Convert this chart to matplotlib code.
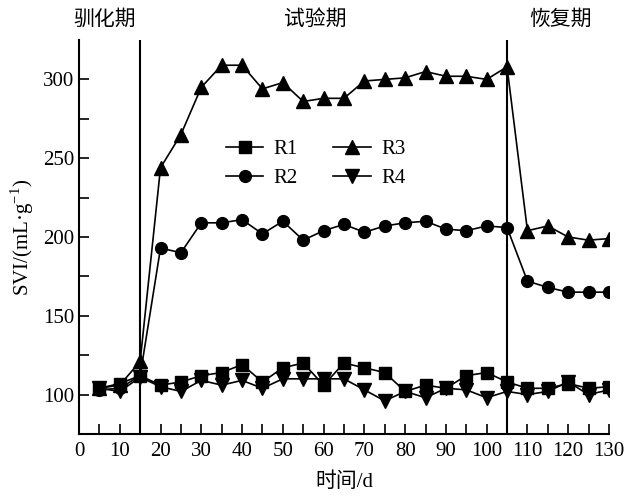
import matplotlib
matplotlib.use("Agg")
import matplotlib.pyplot as plt

plt.rcParams['font.family'] = ['Liberation Serif', 'Noto Sans CJK SC']
plt.rcParams['mathtext.fontset'] = 'custom'
plt.rcParams['mathtext.rm'] = 'Liberation Serif'

# days and SVI values for the four reactors
days = [5, 10, 15, 20, 25, 30, 35, 40, 45, 50, 55, 60, 65,
        70, 75, 80, 85, 90, 95, 100, 105, 110, 115, 120, 125, 130]
r1 = [104, 107, 112, 106, 108, 112, 114, 119, 108, 117, 120, 106, 120,
      117, 114, 102, 106, 104, 112, 114, 108, 104, 104, 107, 104, 105]
r2 = [103, 104, 112, 193, 190, 209, 209, 211, 202, 210, 198, 204, 208,
      203, 207, 209, 210, 205, 204, 207, 206, 172, 168, 165, 165, 165]
r3 = [104, 106, 121, 244, 265, 295, 309, 309, 294, 298, 286, 288, 288,
      299, 300, 301, 305, 302, 302, 300, 308, 204, 207, 200, 198, 199]
r4 = [104, 102, 111, 105, 102, 109, 106, 109, 104, 110, 110, 110, 110,
      103, 96, 102, 98, 104, 103, 98, 102, 100, 102, 108, 100, 103]

phase_names = ['驯化期', '试验期', '恢复期']
phase_pos = [6.4, 58, 118]
phase_bounds = [15, 105]

fig = plt.figure(figsize=(6.38, 4.99), dpi=100)
ax = fig.add_axes([0.1238, 0.1303, 0.8307, 0.7895])

ax.plot(days, r1, '-s', color='black', lw=1.2, ms=8, label='R1')
ax.plot(days, r2, '-o', color='black', lw=1.2, ms=8.5, label='R2')
ax.plot(days, r3, '-^', color='black', lw=1.2, ms=9.5, label='R3')
ax.plot(days, r4, '-v', color='black', lw=1.2, ms=9.5, label='R4')

for b in phase_bounds:
    ax.axvline(b, color='black', lw=1.5)

for name, xp in zip(phase_names, phase_pos):
    ax.text(xp, 1.05, name, transform=ax.get_xaxis_transform(),
            ha='center', va='center', fontsize=15)

ax.set_xlim(0, 130)
ax.set_ylim(75, 325)
ax.set_xticks(range(0, 131, 10))
ax.set_xticks(range(5, 131, 10), minor=True)
ax.set_yticks([100, 150, 200, 250, 300])
ax.set_yticks([125, 175, 225, 275], minor=True)
ax.tick_params(which='both', direction='in', width=1.2, labelsize=15)
ax.tick_params(which='both', axis='x', length=7, pad=6)
ax.tick_params(which='both', axis='y', length=7)
ax.spines['top'].set_visible(False)
ax.spines['right'].set_visible(False)
ax.spines['left'].set_linewidth(1.5)
ax.spines['bottom'].set_linewidth(1.5)

ax.set_xlabel('时间/d', fontsize=15, labelpad=8)
ax.set_ylabel(r'SVI/(mL·g$^{-1}$)', fontsize=15, labelpad=5)

ax.legend(ncol=2, frameon=False, fontsize=15, loc='upper left',
          bbox_to_anchor=(0.277, 0.748), borderaxespad=0, borderpad=0,
          handlelength=1.8, handletextpad=0.5, columnspacing=1.7,
          labelspacing=0.45)

fig.savefig('out.png', dpi=100)
